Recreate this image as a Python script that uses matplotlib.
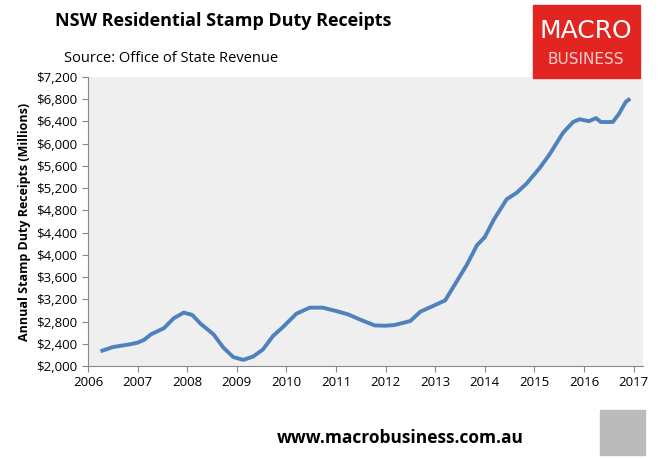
import numpy as np
import matplotlib.pyplot as plt
from matplotlib.patches import Rectangle

# data
years = [2006.29, 2006.5, 2006.84, 2007.0, 2007.13, 2007.27, 2007.53, 2007.73, 2007.93, 2008.1,
         2008.27, 2008.53, 2008.73, 2008.93, 2009.13, 2009.33, 2009.53, 2009.73, 2009.93, 2010.2,
         2010.47, 2010.73, 2011.0, 2011.24, 2011.5, 2011.78, 2012.0, 2012.18, 2012.5, 2012.7,
         2012.98, 2013.2, 2013.44, 2013.64, 2013.84, 2014.0, 2014.18, 2014.44, 2014.64, 2014.84,
         2015.1, 2015.3, 2015.58, 2015.78, 2015.91, 2016.1, 2016.24, 2016.34, 2016.58, 2016.7,
         2016.84, 2016.9]
receipts = [2277, 2340, 2390, 2420, 2470, 2570, 2680, 2860, 2960, 2920,
            2760, 2570, 2330, 2160, 2110, 2170, 2300, 2540, 2700, 2940,
            3050, 3050, 2990, 2930, 2830, 2730, 2725, 2737, 2810, 2977,
            3090, 3180, 3530, 3825, 4170, 4320, 4630, 5000, 5115, 5280,
            5555, 5800, 6200, 6390, 6440, 6405, 6460, 6390, 6390, 6530,
            6750, 6790]
yticks = list(range(2000, 7201, 400))
xticks = list(range(2006, 2018))

fig = plt.figure(figsize=(6.6, 4.59), dpi=100)
ax = fig.add_axes([88 / 660, 1 - 366 / 459, 555 / 660, 289 / 459])
ax.set_facecolor('#efefef')
ax.plot(years, receipts, color='#4f81bd', lw=2.8)
ax.set_xlim(2006, 2006 + 555 / 49.6)
ax.set_ylim(2000, 7200)
ax.set_yticks(yticks)
ax.set_yticklabels(['${:,}'.format(v) for v in yticks], fontsize=9.5, family='Open Sans')
ax.set_xticks(xticks)
ax.set_xticklabels([str(v) for v in xticks], fontsize=9.5, family='Open Sans')
for s in ['top', 'right']:
    ax.spines[s].set_visible(False)
ax.spines['left'].set_color('#888888')
ax.spines['bottom'].set_color('#888888')
ax.tick_params(direction='out', length=4, color='#888888')
ax.set_ylabel('Annual Stamp Duty Receipts (Millions)', fontsize=9, fontweight='bold',
              family='Open Sans', labelpad=4)

fig.text(55 / 660, 1 - 21 / 459, 'NSW Residential Stamp Duty Receipts', fontsize=13,
         fontweight='bold', va='center', family='Open Sans')
fig.text(64 / 660, 1 - 58 / 459, 'Source: Office of State Revenue', fontsize=10.5,
         va='center', family='Open Sans')
fig.text(400 / 660, 1 - 438 / 459, 'www.macrobusiness.com.au', fontsize=12.5,
         fontweight='bold', ha='center', va='center', family='Open Sans')

# logo
fig.patches.append(Rectangle((533 / 660, 1 - 78 / 459), 107 / 660, 73 / 459,
                             transform=fig.transFigure, color='#e32521'))
fig.text(586 / 660, 1 - 31 / 459, 'MACRO', color='white', fontsize=18, ha='center',
         va='center', family='DejaVu Sans')
fig.text(586 / 660, 1 - 59 / 459, 'BUSINESS', color='#f5d0d0', fontsize=11, ha='center',
         va='center', family='DejaVu Sans')
fig.patches.append(Rectangle((600 / 660, 1 - 455 / 459), 45 / 660, 45 / 459,
                             transform=fig.transFigure, color='#bbbbbb'))

fig.savefig('out.png', dpi=100)
